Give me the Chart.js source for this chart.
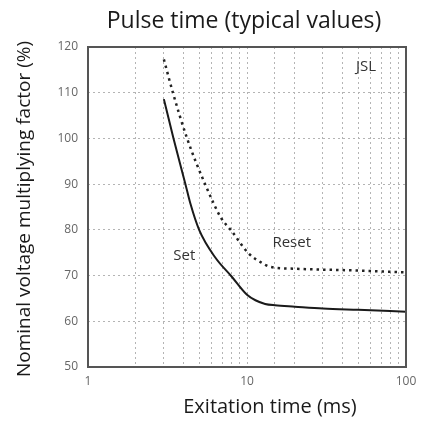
<!DOCTYPE html>
<html>
<head>
<meta charset="utf-8">
<script src="https://cdn.jsdelivr.net/npm/chart.js@4/dist/chart.umd.min.js"></script>
<style>
  html, body { margin: 0; padding: 0; background: #fff; }
  #wrap { width: 428px; height: 422px; }
</style>
</head>
<body>
<div id="wrap"><canvas id="pulseChart"></canvas></div>
<script>
// Excitation time (ms) and multiplying factor (%)
const setTime = [3, 3.45, 4.1, 4.4, 5, 6.3, 8, 10, 11.3, 13, 15, 20, 30, 50, 100];
const setFactor = [108.6, 100, 90, 85.8, 80, 74.0, 69.8, 65.8, 64.6, 63.8, 63.5, 63.2, 62.8, 62.5, 62.1];

const resetTime = [3, 3.42, 4.2, 5.45, 6.9, 7.9, 10.2, 12.5, 14, 20, 30, 50, 100];
const resetFactor = [117.3, 110, 100, 90, 82.5, 80, 74.9, 72.7, 71.9, 71.5, 71.3, 71.1, 70.7];

const yTicks = [50, 60, 70, 80, 90, 100, 110, 120];
const xLabelTicks = [1, 10, 100];

const chartTitle = 'Pulse time (typical values)';
const xTitle = 'Exitation time (ms)';
const yTitle = 'Nominal voltage multiplying factor (%)';

// text labels on the plot, placed in data coordinates
const notes = [
    { text: 'Set', x: 4.03, y: 74.3 },
    { text: 'Reset', x: 19.1, y: 77.1 },
    { text: 'JSL', x: 56, y: 115.6 }
];

const FONT = '"Open Sans", sans-serif';

const toPoints = (xs, ys) => xs.map((x, i) => ({ x: x, y: ys[i] }));

// frame round the plot, titles and in-plot labels
const framePlugin = {
    id: 'frame',
    afterDatasetsDraw(chart) {
        const { ctx, chartArea, scales } = chart;
        const { left, top, right, bottom } = chartArea;
        ctx.save();
        ctx.strokeStyle = '#555';
        ctx.lineWidth = 2;
        ctx.strokeRect(left, top, right - left, bottom - top);

        ctx.fillStyle = '#333';
        ctx.font = '15px ' + FONT;
        ctx.textAlign = 'center';
        ctx.textBaseline = 'middle';
        notes.forEach(n => {
            ctx.fillText(n.text, scales.x.getPixelForValue(n.x), scales.y.getPixelForValue(n.y));
        });

        ctx.fillStyle = '#1a1a1a';
        ctx.textBaseline = 'alphabetic';
        ctx.font = '23px ' + FONT;
        ctx.fillText(chartTitle, (left + right) / 2 - 3, 28);

        ctx.font = '20px ' + FONT;
        ctx.fillText(xTitle, (left + right) / 2 + 23, 413);

        ctx.translate(25, (top + bottom) / 2 + 2);
        ctx.rotate(-Math.PI / 2);
        ctx.textBaseline = 'middle';
        ctx.font = '19px ' + FONT;
        ctx.fillText(yTitle, 0, 0);
        ctx.restore();
    }
};

new Chart(document.getElementById('pulseChart'), {
    type: 'scatter',
    data: {
        datasets: [
            {
                label: 'Set',
                data: toPoints(setTime, setFactor),
                showLine: true,
                borderColor: '#1a1a1a',
                borderWidth: 2,
                pointRadius: 0,
                cubicInterpolationMode: 'monotone'
            },
            {
                label: 'Reset',
                data: toPoints(resetTime, resetFactor),
                showLine: true,
                borderColor: '#222',
                borderWidth: 2.5,
                borderDash: [2.5, 4],
                pointRadius: 0,
                cubicInterpolationMode: 'monotone'
            }
        ]
    },
    options: {
        responsive: true,
        maintainAspectRatio: false,
        animation: false,
        layout: {
            padding: { top: 47, right: 22, bottom: 0, left: 0 }
        },
        plugins: {
            legend: { display: false },
            tooltip: { enabled: false },
            title: { display: false }
        },
        scales: {
            x: {
                type: 'logarithmic',
                min: 1,
                max: 100,
                afterFit: function(axis) { axis.height = 55; },
                ticks: {
                    autoSkip: false,
                    maxRotation: 0,
                    padding: 7,
                    color: '#666',
                    font: { family: FONT, size: 12 },
                    callback: function(value) {
                        return xLabelTicks.includes(value) ? String(value) : '';
                    }
                },
                grid: {
                    color: '#b4b4b4',
                    lineWidth: 1,
                    drawTicks: false
                },
                border: { display: false, dash: [2, 3] }
            },
            y: {
                min: 50,
                max: 120,
                afterFit: function(axis) { axis.width = 88; },
                afterBuildTicks: function(axis) {
                    axis.ticks = yTicks.map(v => ({ value: v }));
                },
                ticks: {
                    color: '#666',
                    padding: 10,
                    font: { family: FONT, size: 12 }
                },
                grid: {
                    color: '#b4b4b4',
                    lineWidth: 1,
                    drawTicks: false
                },
                border: { display: false, dash: [2, 3] }
            }
        }
    },
    plugins: [framePlugin]
});
</script>
</body>
</html>
